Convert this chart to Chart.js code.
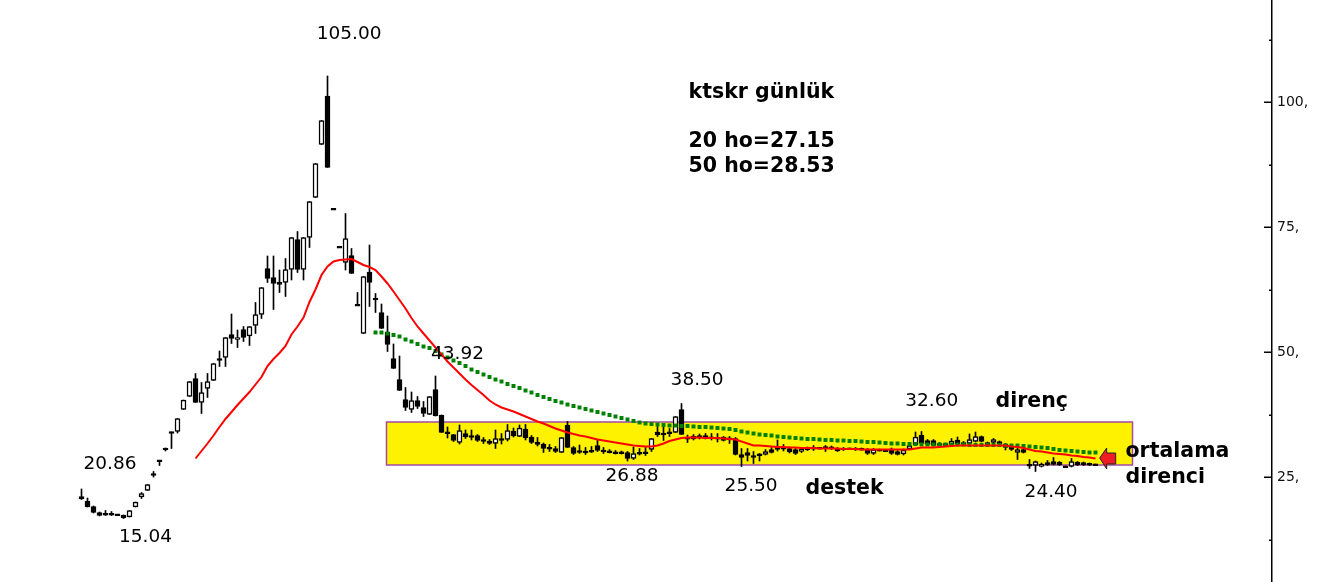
<!DOCTYPE html>
<html><head><meta charset="utf-8">
<script src="https://cdn.jsdelivr.net/npm/chart.js@4.4.1/dist/chart.umd.min.js"></script>
<style>html,body{margin:0;padding:0;background:#fff;overflow:hidden}#wrap{width:1322px;height:582px;position:relative}</style>
</head><body><div id="wrap"><canvas id="c" width="1322" height="582"></canvas></div>
<script>
// ---- data (daily candles, index = trading day) ----
const opens = [
21.1,20.2,19.1,17.9,17.6,17.6,17.5,17.4,17.0,19.0,
21.0,22.3,25.7,28.3,30.8,34.0,34.1,38.5,41.1,44.7,
39.9,42.7,44.3,48.7,48.9,53.5,52.5,54.5,53.2,55.3,
57.5,66.7,64.9,64.0,63.9,66.5,72.5,66.5,72.9,80.9,
91.5,101.2,78.6,71.0,67.9,69.3,59.4,53.7,66.0,60.7,
57.9,54.0,48.7,44.5,40.5,38.5,40.3,38.9,37.5,42.5,
37.4,33.9,33.5,31.9,33.7,33.3,33.3,32.5,32.2,31.7,
32.7,32.5,34.2,33.1,34.6,33.0,32.0,31.6,30.8,30.7,
29.9,35.4,30.9,30.3,30.1,30.3,31.3,30.4,30.2,30.0,
30.0,29.9,28.7,29.8,30.0,30.5,34.0,33.7,34.0,33.9,
38.5,32.9,32.6,33.3,33.3,32.9,32.8,33.0,32.7,32.7,
29.5,29.9,29.3,29.5,29.5,30.5,31.0,30.9,30.7,30.5,
30.1,30.7,30.9,30.8,31.1,31.0,30.7,30.7,30.7,30.7,
30.6,30.5,29.7,30.4,30.3,30.6,30.1,29.6,30.6,31.4,
33.4,32.3,32.3,31.7,31.6,31.5,32.4,31.9,31.7,32.1,
33.1,31.9,31.9,32.1,31.6,31.2,29.9,30.5,27.4,27.3,
27.1,27.9,28.1,28.0,27.1,27.1,28.0,27.9,27.7,27.5];
const highs = [
22.6,20.8,19.2,18.0,18.3,18.1,17.5,17.4,18.3,20.0,
21.9,23.5,26.1,28.3,30.8,34.0,36.7,40.4,44.1,45.7,
43.9,45.7,47.7,50.2,52.9,57.6,54.4,55.1,55.1,59.9,
62.9,69.2,69.2,66.4,68.7,72.9,74.1,72.9,80.1,87.7,
96.3,105.2,78.6,71.0,77.7,70.7,61.9,65.1,71.4,61.7,
59.6,57.2,51.6,49.2,42.9,42.0,41.1,40.1,41.1,45.2,
37.4,35.0,33.5,35.4,34.4,34.4,33.5,32.9,32.5,34.4,
33.7,35.5,34.8,35.4,35.5,33.3,32.9,31.8,31.5,31.1,
32.9,36.1,31.1,31.4,30.9,31.1,32.4,30.9,30.5,30.3,
30.2,30.1,31.0,30.7,30.9,32.7,35.1,35.1,34.7,37.1,
39.7,33.4,33.5,33.6,33.7,33.7,33.7,33.1,33.1,32.9,
30.7,30.7,30.1,29.7,30.5,30.9,32.4,31.5,31.0,30.7,
30.9,31.0,31.3,30.9,31.3,31.2,30.9,30.9,30.8,30.9,
30.8,30.7,30.7,30.6,30.5,30.8,30.3,30.6,31.5,34.0,
34.1,32.5,32.5,31.9,31.7,32.7,33.0,32.1,33.6,34.0,
33.2,32.0,32.7,32.2,31.7,31.3,31.1,30.7,28.5,28.2,
27.8,28.3,28.9,28.1,27.2,28.7,28.1,28.0,27.8,27.6];
const lows = [
20.5,19.0,17.8,17.2,17.3,17.3,17.4,16.7,17.0,19.0,
20.7,22.3,25.0,27.3,30.2,30.7,33.8,38.5,41.1,39.9,
37.7,40.9,44.3,47.1,47.1,51.7,50.9,52.1,51.3,53.7,
56.7,63.9,58.5,61.9,61.1,64.4,65.9,64.4,70.9,80.9,
91.5,86.9,78.5,70.9,66.4,65.7,59.3,53.7,59.1,57.9,
54.7,50.1,46.7,42.3,38.3,37.9,38.7,37.1,37.5,37.2,
33.9,32.8,32.1,31.6,32.7,32.4,32.1,31.7,31.5,30.7,
31.6,32.2,33.0,33.1,32.4,31.7,31.2,29.9,30.1,29.9,
29.9,30.9,29.5,29.7,29.5,29.9,30.1,29.7,29.8,29.6,
29.6,28.2,28.5,29.4,29.3,30.1,33.1,32.3,33.1,33.9,
33.5,31.9,32.4,32.6,32.6,32.4,32.0,32.2,31.7,29.4,
27.1,28.2,27.7,28.2,29.4,29.8,30.2,30.2,29.8,29.5,
29.9,30.3,30.3,30.6,30.1,30.5,30.1,30.3,30.5,30.3,
30.4,29.5,29.5,30.2,30.1,29.5,29.4,29.4,30.5,31.3,
31.6,31.3,31.2,31.2,31.3,31.4,31.5,31.4,31.4,32.0,
32.0,31.4,31.8,31.5,30.4,30.3,28.5,29.8,26.7,26.1,
27.0,27.3,27.4,27.3,26.9,27.0,27.3,27.3,27.3,27.3];
const closes = [
20.6,19.0,17.9,17.3,17.5,17.5,17.4,16.8,18.3,20.0,
21.7,23.5,25.3,28.2,30.4,33.8,36.7,40.4,44.1,39.9,
41.9,44.1,47.7,48.3,52.9,52.7,52.9,52.9,55.1,57.5,
62.9,64.7,63.7,63.5,66.5,72.9,66.5,72.9,80.1,87.7,
96.3,86.9,78.5,70.9,72.7,65.7,59.3,65.1,63.9,60.5,
54.7,51.5,46.7,42.3,38.9,40.3,39.1,37.7,41.1,37.2,
33.9,33.8,32.3,34.3,33.0,32.9,32.3,32.1,31.7,32.7,
32.3,34.3,33.2,34.8,32.8,31.9,31.5,30.7,30.7,30.1,
32.9,30.9,29.7,29.9,29.9,30.0,30.3,30.0,29.9,29.7,
29.7,28.7,29.7,29.7,29.7,32.7,33.4,33.5,33.7,37.1,
33.5,32.6,33.2,32.8,32.7,32.8,32.7,32.3,32.6,29.5,
28.9,29.3,28.9,29.4,30.1,29.9,30.5,30.6,30.0,29.7,
30.6,30.5,30.6,30.7,30.7,30.7,30.2,30.5,30.6,30.5,
30.5,29.7,30.5,30.3,30.2,29.7,29.5,30.4,31.3,33.0,
31.7,31.5,31.3,31.3,31.4,32.2,31.6,31.5,32.5,33.1,
32.1,31.5,32.5,31.6,30.9,30.5,30.5,29.9,27.3,28.1,
27.6,27.4,27.5,27.4,27.0,28.1,27.4,27.4,27.4,27.4];
// 20-day moving average (red), first value at day 19
const ma20Start = 19;
const ma20 = [
28.7,30.2,31.7,33.3,35.0,36.6,38.0,39.4,40.7,42.0,
43.5,45.0,47.2,48.6,49.8,51.2,53.5,55.1,56.9,60.0,
62.5,65.4,67.1,68.1,68.4,68.5,68.6,68.0,67.4,67.0,
66.4,65.1,63.7,62.1,60.4,58.7,56.8,55.1,53.7,52.3,
50.9,49.5,48.1,46.9,45.7,44.5,43.4,42.4,41.4,40.3,
39.5,38.9,38.5,38.1,37.6,37.1,36.6,36.1,35.7,35.2,
34.7,34.3,33.9,33.6,33.3,33.1,32.8,32.5,32.3,32.1,
31.9,31.7,31.5,31.3,31.2,31.1,31.1,31.3,31.7,32.2,
32.5,32.8,32.9,32.9,32.9,32.8,32.8,32.8,32.7,32.6,
32.5,32.1,31.7,31.3,31.3,31.2,31.1,31.0,31.0,30.9,
30.9,30.8,30.8,30.8,30.7,30.7,30.7,30.7,30.6,30.6,
30.6,30.5,30.5,30.5,30.5,30.5,30.5,30.5,30.5,30.5,
30.7,30.9,30.9,30.9,31.0,31.1,31.2,31.3,31.3,31.3,
31.3,31.3,31.3,31.3,31.3,31.3,31.1,31.0,30.8,30.5,
30.2,30.1,29.9,29.7,29.6,29.5,29.3,29.2,29.0,28.9,28.7];
// 50-day moving average (green dots), first value at day 49
const ma50Start = 49;
const ma50 = [
53.9,53.9,53.7,53.4,53.1,52.5,52.1,51.6,51.1,50.8,
50.2,49.5,48.9,48.3,47.8,47.2,46.5,46.0,45.5,45.0,
44.5,44.1,43.6,43.2,42.8,42.3,41.9,41.4,41.0,40.6,
40.2,39.9,39.5,39.2,38.9,38.6,38.3,38.0,37.7,37.4,
37.1,36.8,36.5,36.2,35.9,35.7,35.6,35.5,35.4,35.3,
35.3,35.2,35.2,35.1,35.0,35.0,34.9,34.8,34.7,34.6,
34.4,34.1,33.9,33.7,33.5,33.4,33.3,33.1,33.0,32.9,
32.8,32.7,32.6,32.6,32.5,32.4,32.4,32.3,32.3,32.2,
32.2,32.1,32.0,32.0,31.9,31.8,31.7,31.7,31.6,31.6,
31.6,31.5,31.5,31.5,31.5,31.5,31.5,31.5,31.5,31.4,
31.4,31.4,31.4,31.4,31.4,31.3,31.3,31.3,31.2,31.1,
31.0,30.9,30.8,30.6,30.4,30.3,30.2,30.1,30.0,29.9,29.9];
// y axis ticks
const yTickStep = 12.5;
const yLabelEvery = 25;
const yTickSuffix = ',';
// price call-outs (centre at day index / price)
const priceLabels = [
  {text:'105.00', i:44.6, v:113.6},
  {text:'20.86', i:4.75, v:27.6},
  {text:'15.04', i:10.67, v:13.0},
  {text:'43.92', i:62.67, v:49.6},
  {text:'38.50', i:102.6, v:44.4},
  {text:'26.88', i:91.75, v:25.2},
  {text:'25.50', i:111.6, v:23.2},
  {text:'32.60', i:141.7, v:40.2},
  {text:'24.40', i:161.6, v:22.0}
];
// bold notes (left edge at day index / price)
const notes = [
  {text:'ktskr günlük', i:101.17, v:101.8},
  {text:'20 ho=27.15', i:101.17, v:92.0},
  {text:'50 ho=28.53', i:101.17, v:87.0},
  {text:'direnç', i:152.33, v:40.0},
  {text:'destek', i:120.67, v:22.6},
  {text:'ortalama', i:174.0, v:30.0},
  {text:'direnci', i:174.0, v:24.8}
];
const supportBox = {iFrom:50.83, iTo:175.17, vLow:27.4, vHigh:36.0};
const arrowAt = {i:169.7, v:28.8};

// ---- build datasets ----
const days = opens.map((_, k) => k);
const wickData = days.map(k => ({x:k, y:[lows[k], highs[k]]}));
const minBody = 0.34;
const bodyData = days.map(k => {
  let lo = Math.min(opens[k], closes[k]), hi = Math.max(opens[k], closes[k]);
  if (hi - lo < minBody) { const m = (hi + lo) / 2; lo = m - minBody/2; hi = m + minBody/2; }
  return {x:k, y:[lo, hi]};
});
const bodyFill = days.map(k => (closes[k] < opens[k] || Math.abs(closes[k]-opens[k]) < minBody) ? '#000000' : '#ffffff');
const ma20Data = ma20.map((v, k) => ({x:ma20Start + k, y:v}));
const ma50Data = ma50.map((v, k) => ({x:ma50Start + k, y:v}));

const boxPlugin = {
  id:'supportBox',
  beforeDatasetsDraw(chart){
    const {ctx, scales:{x, y}} = chart;
    const x0 = x.getPixelForValue(supportBox.iFrom), x1 = x.getPixelForValue(supportBox.iTo);
    const y0 = y.getPixelForValue(supportBox.vHigh), y1 = y.getPixelForValue(supportBox.vLow);
    ctx.save();
    ctx.fillStyle = '#fff200';
    ctx.fillRect(x0, y0, x1 - x0, y1 - y0);
    ctx.strokeStyle = '#a349a4';
    ctx.lineWidth = 1.5;
    ctx.strokeRect(x0, y0, x1 - x0, y1 - y0);
    ctx.restore();
  }
};
const annotPlugin = {
  id:'annot',
  afterDatasetsDraw(chart){
    const {ctx, scales:{x, y}} = chart;
    ctx.save();
    // arrow
    const ax = x.getPixelForValue(arrowAt.i), ay = y.getPixelForValue(arrowAt.v);
    ctx.beginPath();
    ctx.moveTo(ax, ay);
    ctx.lineTo(ax + 7, ay - 10);
    ctx.lineTo(ax + 7, ay - 5);
    ctx.lineTo(ax + 16, ay - 5);
    ctx.lineTo(ax + 16, ay + 6);
    ctx.lineTo(ax + 7, ay + 6);
    ctx.lineTo(ax + 7, ay + 11);
    ctx.closePath();
    ctx.fillStyle = '#ee1c24';
    ctx.fill();
    ctx.strokeStyle = '#222';
    ctx.lineWidth = 1;
    ctx.stroke();
    // texts
    ctx.fillStyle = '#000';
    ctx.textBaseline = 'middle';
    ctx.textAlign = 'center';
    ctx.font = '18.5px "DejaVu Sans"';
    priceLabels.forEach(p => ctx.fillText(p.text, x.getPixelForValue(p.i), y.getPixelForValue(p.v)));
    ctx.textAlign = 'left';
    ctx.font = 'bold 20.5px "DejaVu Sans"';
    notes.forEach(p => ctx.fillText(p.text, x.getPixelForValue(p.i), y.getPixelForValue(p.v)));
    ctx.restore();
  },
  afterDraw(chart){
    const {ctx, scales:{y}} = chart;
    ctx.save();
    ctx.strokeStyle = '#000';
    ctx.lineWidth = 1.5;
    y.ticks.forEach(t => {
      const py = Math.round(y.getPixelForValue(t.value)) + 0.25;
      const len = (t.value % yLabelEvery === 0) ? 8 : 3;
      ctx.beginPath();
      ctx.moveTo(y.left - len, py);
      ctx.lineTo(y.left, py);
      ctx.stroke();
    });
    ctx.restore();
  }
};

new Chart(document.getElementById('c'), {
  type:'line',
  data:{datasets:[
    {type:'line', data:ma20Data, borderColor:'#ff0000', borderWidth:2, pointRadius:0, tension:0, order:1},
    {type:'line', data:ma50Data, showLine:false, pointStyle:'rect', pointRadius:2.8, pointBackgroundColor:'#008000', pointBorderWidth:0, pointBorderColor:'#008000', order:2},
    {type:'bar', data:bodyData, backgroundColor:bodyFill, borderColor:'#000', borderWidth:1.5, borderSkipped:false, barThickness:5, grouped:false, order:3},
    {type:'bar', data:wickData, backgroundColor:'#000', borderWidth:0, barThickness:1, grouped:false, order:4}
  ]},
  options:{
    responsive:false, animation:false, devicePixelRatio:1,
    layout:{padding:0, autoPadding:false},
    events:[],
    plugins:{legend:{display:false}, tooltip:{enabled:false}},
    scales:{
      x:{type:'linear', min:-13.5833, max:198.4167, display:false, offset:false},
      y:{type:'linear', position:'right', min:4, max:120.4,
         afterFit(s){ s.width = 50; s.paddingTop = 0; s.paddingBottom = 0; },
         grid:{display:false, drawTicks:false},
         border:{display:true, color:'#000', width:1.5},
         ticks:{stepSize:yTickStep, includeBounds:false, padding:5, color:'#111',
                font:{family:'DejaVu Sans', size:14},
                callback:(v) => (v % yLabelEvery === 0 ? v + yTickSuffix : '')}}
    }
  },
  plugins:[boxPlugin, annotPlugin]
});
</script></body></html>
